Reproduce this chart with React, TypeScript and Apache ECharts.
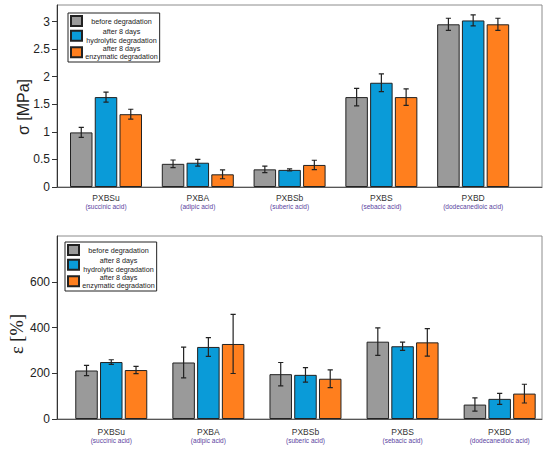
import React, { useEffect, useRef } from "react";
import * as echarts from "echarts";

const categories = ["PXBSu", "PXBA", "PXBSb", "PXBS", "PXBD"];
const acids = ["(succinic acid)", "(adipic acid)", "(suberic acid)", "(sebacic acid)", "(dodecanedioic acid)"];
const seriesNames = [
  "before degradation",
  "after 8 days\nhydrolytic degradation",
  "after 8 days\nenzymatic degradation",
];
const axisTitles = ["σ [MPa]", "ε [%]"];
const stressTicks = [0, 0.5, 1, 1.5, 2, 2.5, 3];
const strainTicks = [0, 200, 400, 600];

const stressBefore = [0.99, 0.42, 0.32, 1.63, 2.95];
const stressHydro = [1.63, 0.44, 0.31, 1.89, 3.02];
const stressEnzy = [1.32, 0.23, 0.4, 1.63, 2.95];
const stressErrBefore = [0.09, 0.07, 0.06, 0.16, 0.11];
const stressErrHydro = [0.09, 0.06, 0.02, 0.16, 0.1];
const stressErrEnzy = [0.09, 0.08, 0.085, 0.15, 0.11];

const strainBefore = [212, 247, 196, 338, 63];
const strainHydro = [249, 315, 193, 318, 88];
const strainEnzy = [214, 328, 176, 335, 111];
const strainErrBefore = [22, 67, 51, 60, 29];
const strainErrHydro = [10, 41, 32, 18, 24];
const strainErrEnzy = [16, 129, 39, 60, 41];

const COLORS = ["#9a9a9a", "#0a9bd8", "#ff7f1e"];
const BAR_W = 22.5;
const BAR_GAP = 0.1;
const SANS = "Liberation Sans, Arial, sans-serif";
const SERIF = "Liberation Serif, Times New Roman, serif";

export default function App() {
  const ref = useRef<HTMLDivElement>(null);
  useEffect(() => {
    if (!ref.current) return;
    const chart = echarts.init(ref.current, null, { renderer: "svg" });

    const grids = [
      { left: 57, right: 8, top: 5, height: 182 },
      { left: 57, right: 8, top: 236, height: 183 },
    ];
    const values = [
      [stressBefore, stressHydro, stressEnzy],
      [strainBefore, strainHydro, strainEnzy],
    ];
    const errors = [
      [stressErrBefore, stressErrHydro, stressErrEnzy],
      [strainErrBefore, strainErrHydro, strainErrEnzy],
    ];
    const xRanges = [
      [-0.534, 4.75],
      [-0.559, 4.436],
    ];
    const labelMargins = [6, 8];

    const xAxis = [0, 1].map((g) => ({
      type: "value",
      gridIndex: g,
      min: xRanges[g][0],
      max: xRanges[g][1],
      axisLine: { show: true, onZero: false, lineStyle: { color: "#555", width: 1 } },
      axisTick: { show: false },
      splitLine: { show: false },
      axisLabel: {
        customValues: categories.map((_, i) => i),
        margin: labelMargins[g],
        formatter: (v: number) => {
          const i = Math.round(v);
          return `{a|${categories[i]}}\n{b|${acids[i]}}`;
        },
        rich: {
          a: { fontFamily: SANS, fontSize: 8.5, lineHeight: 9.5, color: "#333" },
          b: { fontFamily: SANS, fontSize: 6.5, lineHeight: 8, color: "#5a3fa0" },
        },
      },
    }));

    const yBase = {
      type: "value",
      axisLine: { show: true, onZero: false, lineStyle: { color: "#333", width: 1 } },
      axisTick: { show: true, length: 5, lineStyle: { color: "#333" } },
      splitLine: { show: false },
    };
    const yAxis = [
      {
        ...yBase,
        gridIndex: 0,
        min: 0,
        max: 3.3,
        interval: 0.5,
        axisLabel: {
          margin: 7,
          fontFamily: SANS,
          fontSize: 12,
          color: "#222",
          showMaxLabel: false,
          formatter: (v: number) => (stressTicks.includes(v) ? String(v) : ""),
        },
      },
      {
        ...yBase,
        gridIndex: 1,
        min: 0,
        max: 800,
        interval: 200,
        axisLabel: {
          margin: 7,
          fontFamily: SANS,
          fontSize: 12,
          color: "#222",
          showMaxLabel: false,
          formatter: (v: number) => (strainTicks.includes(v) ? String(v) : ""),
        },
      },
    ];

    const series: any[] = [];
    [0, 1].forEach((g) => {
      seriesNames.forEach((name, k) => {
        series.push({
          type: "bar",
          name,
          xAxisIndex: g,
          yAxisIndex: g,
          barWidth: BAR_W,
          barGap: `${BAR_GAP * 100}%`,
          itemStyle: { color: COLORS[k], borderColor: "#222", borderWidth: 1 },
          data: values[g][k].map((v, i) => [i, v]),
          z: 2,
        });
      });
      const errData: number[][] = [];
      seriesNames.forEach((_, k) => {
        values[g][k].forEach((v, i) => errData.push([i, v, errors[g][k][i], k]));
      });
      series.push({
        type: "custom",
        xAxisIndex: g,
        yAxisIndex: g,
        z: 5,
        silent: true,
        clip: true,
        encode: { x: 0, y: 1 },
        data: errData,
        renderItem: (params: any, api: any) => {
          const xi = api.value(0);
          const v = api.value(1);
          const e = api.value(2);
          const k = api.value(3);
          const offset = (k - 1) * BAR_W * (1 + BAR_GAP);
          const c = api.coord([xi, v]);
          const hi = api.coord([xi, v + e])[1];
          const lo = api.coord([xi, v - e])[1];
          const x = c[0] + offset;
          const cap = 2.6;
          return {
            type: "polyline",
            shape: {
              points: [
                [x - cap, hi],
                [x + cap, hi],
                [x, hi],
                [x, lo],
                [x - cap, lo],
                [x + cap, lo],
              ],
            },
            style: { stroke: "#222", lineWidth: 1.2, fill: null },
          };
        },
      });
    });

    const legendPos = [
      { left: 68, top: 13 },
      { left: 65, top: 242 },
    ];
    const legend = legendPos.map((p) => ({
      ...p,
      orient: "vertical",
      data: seriesNames,
      icon: "rect",
      itemWidth: 11,
      itemHeight: 10,
      itemGap: 1,
      padding: [2, 2, 2, 2],
      borderColor: "#222",
      borderWidth: 1,
      backgroundColor: "#fff",
      selectedMode: false,
      formatter: (name: string) =>
        name
          .split("\n")
          .map((l) => `{t|${l}}`)
          .join("\n"),
      textStyle: {
        rich: {
          t: { width: 69, align: "center", fontFamily: SANS, fontSize: 7.2, lineHeight: 8.5, color: "#222" },
        },
      },
    }));

    chart.setOption({
      animation: false,
      backgroundColor: "#fff",
      grid: grids.map((g) => ({ ...g, show: true, borderColor: "#8c8c8c", borderWidth: 1, backgroundColor: "transparent" })),
      xAxis,
      yAxis,
      legend,
      series,
      graphic: [
        {
          type: "text",
          x: 23.5,
          y: 107,
          rotation: Math.PI / 2,
          style: {
            text: axisTitles[0],
            fontFamily: SANS,
            fontSize: 16,
            fill: "#222",
            align: "center",
            verticalAlign: "middle",
          },
        },
        {
          type: "text",
          x: 17,
          y: 334,
          rotation: Math.PI / 2,
          style: {
            text: axisTitles[1],
            fontFamily: SERIF,
            fontSize: 18.5,
            fill: "#222",
            align: "center",
            verticalAlign: "middle",
          },
        },
      ],
    });
    return () => chart.dispose();
  }, []);
  return (
    <div
      ref={ref}
      style={{ position: "absolute", left: 0, top: 0, width: 550, height: 450, background: "#fff" }}
    />
  );
}
